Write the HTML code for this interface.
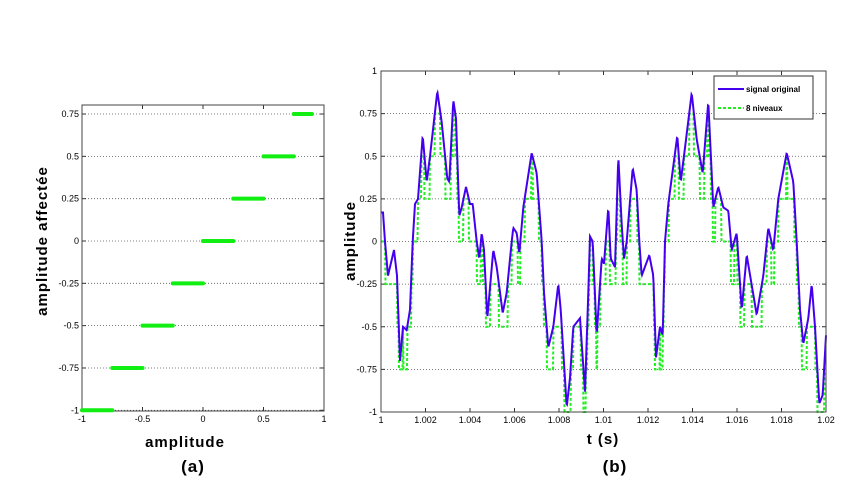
<!DOCTYPE html>
<html><head><meta charset="utf-8"><style>
body{margin:0;background:#fff;}
svg text{font-family:"Liberation Sans",sans-serif;}
.t{font-size:9px;}
.lab{font-size:15px;font-weight:bold;letter-spacing:1px;}
</style></head><body>
<svg id="s" width="845" height="485" xmlns="http://www.w3.org/2000/svg">
<rect width="845" height="485" fill="#fff"/>
<g id="L"></g>
<g id="R"></g>
<text class="lab" x="0" y="0" transform="translate(47,241) rotate(-90)" text-anchor="middle">amplitude affectée</text>
<text class="lab" x="185" y="447" text-anchor="middle">amplitude</text>
<text class="lab" x="193" y="472" text-anchor="middle" style="font-size:17px">(a)</text>
<text class="lab" x="0" y="0" transform="translate(355,241) rotate(-90)" text-anchor="middle">amplitude</text>
<text class="lab" x="603" y="444" text-anchor="middle">t (s)</text>
<text class="lab" x="615" y="472" text-anchor="middle" style="font-size:17px">(b)</text>
</svg>
<script>
var NS="http://www.w3.org/2000/svg";
function el(p,n,a,t){var e=document.createElementNS(NS,n);for(var k in a)e.setAttribute(k,a[k]);if(t!=null)e.textContent=t;p.appendChild(e);return e;}
var L=document.getElementById("L");
var lx0=82,lx1=324,ly=function(v){return 241-v*169.3;},lxf=function(v){return lx0+(v+1)/2*(lx1-lx0);};
var ltop=105,lbot=411;
[-1,-0.75,-0.5,-0.25,0,0.25,0.5,0.75].forEach(function(v){
 var y=ly(v);
 el(L,"line",{x1:lx0,x2:lx1,y1:y,y2:y,stroke:"#555","stroke-width":0.8,"stroke-dasharray":"1,2"});
 el(L,"line",{x1:lx0,x2:lx0+4,y1:y,y2:y,stroke:"#333"});
 el(L,"line",{x1:lx1,x2:lx1-4,y1:y,y2:y,stroke:"#333"});
 el(L,"text",{class:"t",x:lx0-3,y:y+3,"text-anchor":"end"},String(v));
});
[-1,-0.5,0,0.5,1].forEach(function(v){
 var x=lxf(v);
 el(L,"line",{x1:x,x2:x,y1:lbot,y2:lbot-4,stroke:"#333"});
 el(L,"line",{x1:x,x2:x,y1:ltop,y2:ltop+4,stroke:"#333"});
 el(L,"text",{class:"t",x:x,y:lbot+11,"text-anchor":"middle"},String(v));
});
el(L,"rect",{x:lx0,y:ltop,width:lx1-lx0,height:lbot-ltop,fill:"none",stroke:"#444","stroke-width":1});
for(var i=0;i<8;i++){var lv=-1+i*0.25;var xa=lxf(lv),xb=lxf(i==7?0.9:lv+0.25);
 el(L,"line",{x1:xa,x2:xb,y1:ly(lv),y2:ly(lv),stroke:"#11ee11","stroke-width":4,"stroke-linecap":"round"});}
var R=document.getElementById("R");
var rx0=381,rx1=826,rtop=71,rbot=412;var ry=function(v){return 241.5-v*170.5;};
[-1,-0.75,-0.5,-0.25,0,0.25,0.5,0.75,1].forEach(function(v){
 var y=ry(v);
 if(v>-1&&v<1)el(R,"line",{x1:rx0,x2:rx1,y1:y,y2:y,stroke:"#555","stroke-width":0.8,"stroke-dasharray":"1,2"});
 el(R,"line",{x1:rx0,x2:rx0+4,y1:y,y2:y,stroke:"#333"});
 el(R,"line",{x1:rx1,x2:rx1-4,y1:y,y2:y,stroke:"#333"});
 el(R,"text",{class:"t",x:rx0-4,y:y+3,"text-anchor":"end"},String(v));
});
for(var i=0;i<=10;i++){var x=rx0+i*(rx1-rx0)/10;
 el(R,"line",{x1:x,x2:x,y1:rbot,y2:rbot-4,stroke:"#333"});
 el(R,"line",{x1:x,x2:x,y1:rtop,y2:rtop+4,stroke:"#333"});
 var lab=String(parseFloat((1+i*0.002).toFixed(3)));
 el(R,"text",{class:"t",x:x,y:rbot+11,"text-anchor":"middle"},lab);}
var P=[[381,0.17],[383,0.17],[385,0],[388,-0.2],[394,-0.05],[397,-0.2],[400,-0.7],[403,-0.5],[406.7,-0.52],[410,-0.4],[412.7,0],[415,0.22],[418,0.25],[422.7,0.62],[426.7,0.35],[430,0.5],[437.3,0.88],[441.7,0.7],[447.3,0.37],[449.3,0.35],[453.3,0.83],[456,0.72],[459.3,0.15],[461.7,0.2],[466,0.32],[470,0.22],[472.7,0.22],[476.7,0],[479.3,-0.1],[481.7,0.05],[484,-0.05],[487.3,-0.45],[493.3,-0.05],[496.7,-0.15],[502.7,-0.42],[506.7,-0.3],[511.7,0],[513.3,0.08],[516.7,0.05],[519.3,-0.07],[523.3,0.2],[531.7,0.52],[536.7,0.4],[541.7,0],[544,-0.3],[548.3,-0.62],[553.3,-0.5],[558.3,-0.25],[560.7,-0.4],[566.7,-0.97],[570,-0.8],[573.3,-0.5],[580,-0.45],[585,-0.88],[588.3,-0.3],[590,0.03],[592.7,0],[596.7,-0.55],[601.7,-0.1],[604,-0.13],[608.3,0.2],[610.7,-0.1],[615,-0.15],[618.3,0.5],[621.7,0.1],[624,-0.1],[626.7,0],[632.7,0.43],[636.7,0.3],[639.3,0],[641.7,-0.2],[649.3,-0.08],[653.3,-0.2],[656,-0.68],[660,-0.5],[662.7,-0.55],[665,0],[668.3,0.22],[677.3,0.62],[680.7,0.35],[685,0.55],[691.7,0.87],[696.7,0.6],[702.7,0.4],[708.3,0.82],[713.3,0.2],[718.3,0.32],[723.3,0.2],[728.3,0.18],[731.7,-0.05],[736.7,0.05],[741.7,-0.4],[746.7,-0.08],[756.7,-0.43],[763.3,-0.2],[768.3,0.08],[773.3,-0.05],[778.3,0.25],[786.7,0.52],[793.3,0.35],[796.7,0],[800,-0.4],[803.3,-0.6],[808.3,-0.45],[811.7,-0.25],[815,-0.5],[819.3,-0.95],[822.7,-0.9],[826,-0.55]];
function val(x){for(var i=1;i<P.length;i++){if(x<=P[i][0]){var a=P[i-1],b=P[i];return a[1]+(b[1]-a[1])*(x-a[0])/(b[0]-a[0]);}}return P[P.length-1][1];}
var db="",dg="";
for(var x=rx0;x<=rx1;x+=0.5){var v=val(x);db+=(x==rx0?"M":"L")+x+","+ry(v).toFixed(1);
 var q=Math.max(-1,Math.min(0.75,Math.floor(v*4+1e-6)/4));dg+=(x==rx0?"M":"L")+x+","+ry(q).toFixed(1);}
el(R,"path",{d:dg,fill:"none",stroke:"#22ee22","stroke-width":2,"stroke-dasharray":"3,2"});
el(R,"path",{d:db,fill:"none",stroke:"#4400ee","stroke-width":2});
el(R,"rect",{x:rx0,y:rtop,width:rx1-rx0,height:rbot-rtop,fill:"none",stroke:"#444","stroke-width":1});
el(R,"rect",{x:714,y:76,width:99,height:43,fill:"#fff",stroke:"#333","stroke-width":1});
el(R,"line",{x1:718,x2:744,y1:89,y2:89,stroke:"#4400ee","stroke-width":2});
el(R,"line",{x1:718,x2:744,y1:108,y2:108,stroke:"#22ee22","stroke-width":2,"stroke-dasharray":"3,2"});
el(R,"text",{x:746,y:92,style:"font-size:8px;font-weight:bold"},"signal original");
el(R,"text",{x:746,y:111,style:"font-size:8px;font-weight:bold"},"8 niveaux");
</script>
</body></html>
